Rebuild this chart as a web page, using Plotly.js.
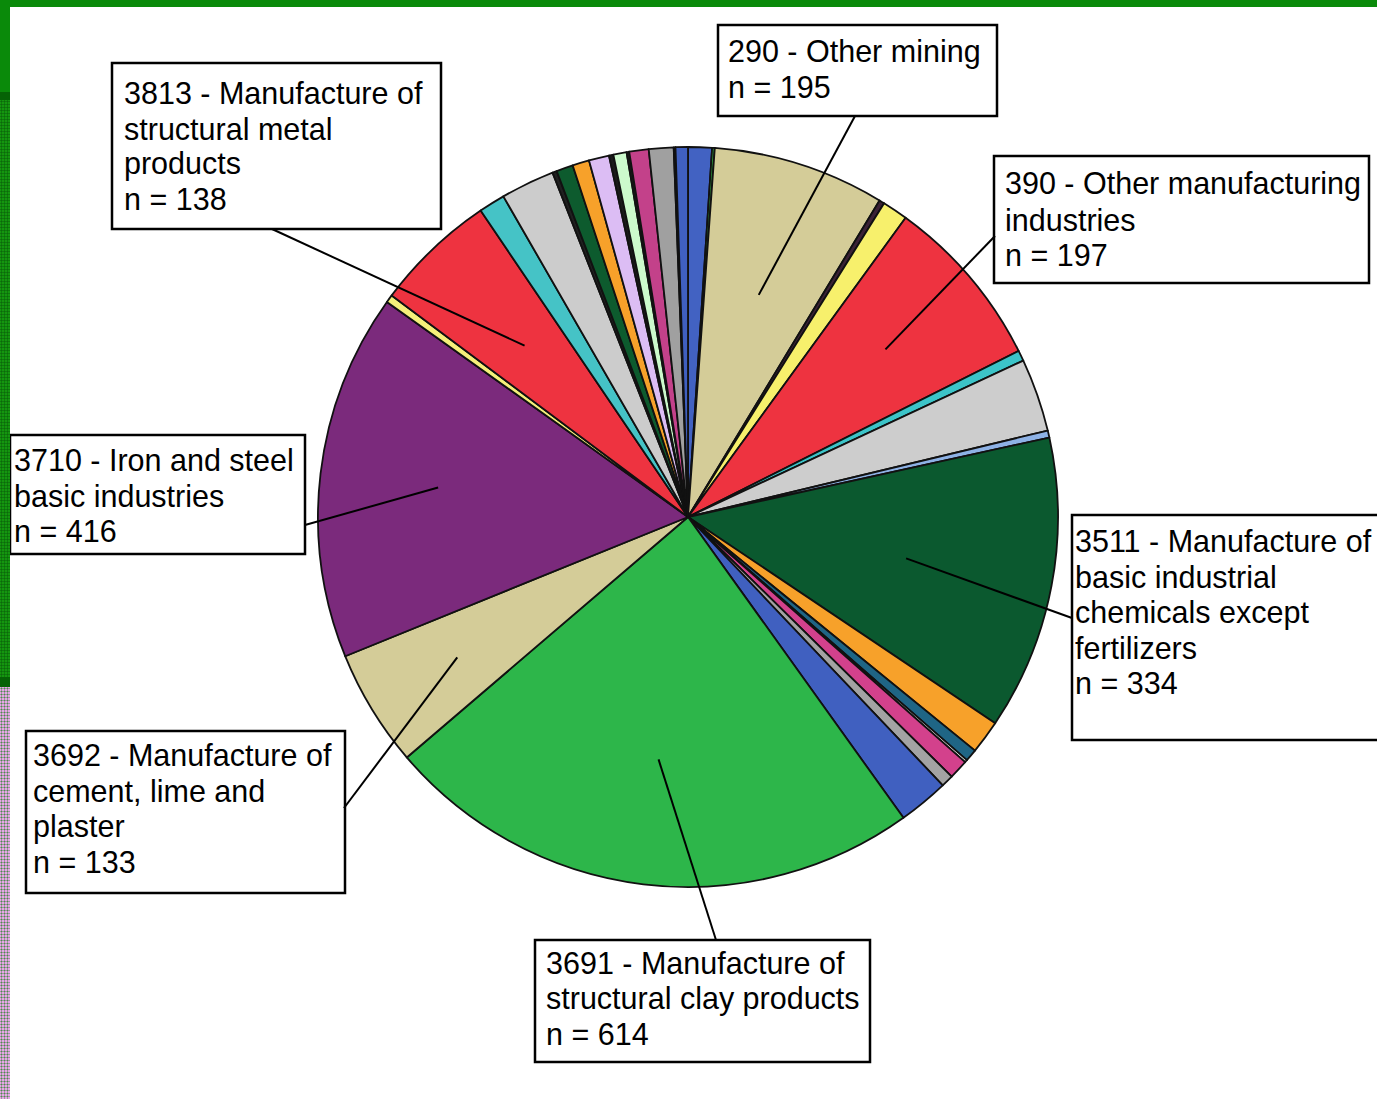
<!DOCTYPE html>
<html>
<head>
<meta charset="utf-8">
<script src="https://cdn.plot.ly/plotly-3.0.1.min.js"></script>
<style>
  html, body { margin: 0; padding: 0; background: #ffffff; }
  #chart { position: absolute; left: 0; top: 0; width: 1377px; height: 1099px; }
  .frame { position: absolute; pointer-events: none; }
</style>
</head>
<body>
<div id="chart"></div>
<div class="frame" style="left:0;top:0;width:1377px;height:7px;background:#0A8A0A;"></div>
<div class="frame" style="left:0;top:0;width:10px;height:92px;background:#0A8A0A;"></div>
<div class="frame" style="left:0;top:92px;width:10px;height:8px;background:#056205;"></div>
<div class="frame" style="left:0;top:100px;width:10px;height:577px;background-color:#14960F;background-image:radial-gradient(circle,#0B6A0B 0.9px,transparent 1.2px);background-size:3px 3px;"></div>
<div class="frame" style="left:0;top:677px;width:10px;height:10px;background:#056205;"></div>
<div class="frame" style="left:0;top:687px;width:10px;height:412px;background-color:#E6A6E6;background-image:radial-gradient(circle,#4E8A4E 0.8px,transparent 1.2px);background-size:3px 3px;"></div>
<script>
// ---- data (clockwise from 12 o'clock) ----
const sectorLabels = [
  "Other sector A", "Other sector B", "290 - Other mining", "Other sector C", "Other sector D",
  "390 - Other manufacturing industries", "Other sector E", "Other sector F", "Other sector G",
  "3511 - Manufacture of basic industrial chemicals except fertilizers",
  "Other sector H", "Other sector I", "Other sector J", "Other sector K", "Other sector L", "Other sector M",
  "3691 - Manufacture of structural clay products",
  "3692 - Manufacture of cement, lime and plaster",
  "3710 - Iron and steel basic industries",
  "Other sector N",
  "3813 - Manufacture of structural metal products",
  "Other sector O", "Other sector P", "Other sector Q", "Other sector R", "Other sector S",
  "Other sector T", "Other sector U", "Other sector V", "Other sector W", "Other sector X",
  "Other sector Y", "Other sector Z", "Other sector AA"
];
const sectorCounts = [
  27, 3, 195, 6, 29,
  197, 12, 83, 8,
  334,
  38, 14, 3, 22, 14, 57,
  614,
  133,
  416,
  9,
  138,
  30, 61, 5, 19, 19,
  23, 5, 15, 3, 22,
  28, 2, 14
];
const sectorColors = [
  "#4262C2", "#2E9E3E", "#D4CC98", "#3B2236", "#F7F06C",
  "#EE3340", "#3CC4C8", "#CDCDCD", "#8EB2E6",
  "#0B592F",
  "#F7A12A", "#1F6585", "#F0F0F0", "#D3418C", "#A3A3A3", "#4060C0",
  "#2DB64A",
  "#D4CC98",
  "#7B2A7C",
  "#F5F07A",
  "#EE3340",
  "#45C3C6", "#CCCCCC", "#202020", "#0D5B2E", "#F7A12A",
  "#DCBDF4", "#1A1A1A", "#CCFACC", "#1A1A1A", "#C3418A",
  "#A0A0A0", "#2C3E80", "#4060C0"
];

// callout texts
const calloutSectors = [2, 5, 9, 16, 17, 18, 20];
const calloutText = [
  ["290 - Other mining", "n = 195"],
  ["390 - Other manufacturing", "industries", "n = 197"],
  ["3511 - Manufacture of", "basic industrial", "chemicals except", "fertilizers", "n = 334"],
  ["3691 - Manufacture of", "structural clay products", "n = 614"],
  ["3692 - Manufacture of", "cement, lime and", "plaster", "n = 133"],
  ["3710 - Iron and steel", "basic industries", "n = 416"],
  ["3813 - Manufacture of", "structural metal", "products", "n = 138"]
];

// ---- layout (pixel positions) ----
const W = 1377, H = 1099;
const PIE = {cx: 688, cy: 517, r: 370};
const boxes = [
  {box: [718, 25, 997, 116],  tx: 726,  ty: 52,  start: [855, 116], rf: 0.63},
  {box: [994, 156, 1369, 283], tx: 1003, ty: 184, start: [995, 236], rf: 0.70},
  {box: [1072, 515, 1385, 740], tx: 1073, ty: 541, start: [1072, 618], rf: 0.60},
  {box: [535, 940, 870, 1062], tx: 544,  ty: 963, start: [716, 940], rf: 0.66},
  {box: [26, 731, 345, 893],   tx: 31,   ty: 755, start: [344, 808], rf: 0.73},
  {box: [10, 435, 305, 554],   tx: 12,   ty: 460, start: [305, 525], rf: 0.68},
  {box: [112, 63, 441, 229],   tx: 122,  ty: 93,  start: [272, 229], rf: 0.64}
];
const LINE_STEP = 35.5;
const px = x => x / W;
const py = y => 1 - y / H;

const total = sectorCounts.reduce((a, b) => a + b, 0);
const cum = [];
let acc = 0;
sectorCounts.forEach(v => { cum.push(acc); acc += v; });

const shapes = [];
const annotations = [];
boxes.forEach((b, i) => {
  shapes.push({type: 'rect', xref: 'paper', yref: 'paper', layer: 'above',
    x0: px(b.box[0]), x1: px(b.box[2]), y0: py(b.box[3]), y1: py(b.box[1]),
    line: {color: '#000000', width: 2.5}, fillcolor: '#ffffff'});
  const k = calloutSectors[i];
  const midAngle = (cum[k] + sectorCounts[k] / 2) / total * 2 * Math.PI;
  const ex = PIE.cx + b.rf * PIE.r * Math.sin(midAngle);
  const ey = PIE.cy - b.rf * PIE.r * Math.cos(midAngle);
  shapes.push({type: 'line', xref: 'paper', yref: 'paper', layer: 'above',
    x0: px(b.start[0]), y0: py(b.start[1]), x1: px(ex), y1: py(ey),
    line: {color: '#000000', width: 2}});
  calloutText[i].forEach((t, j) => {
    annotations.push({xref: 'paper', yref: 'paper', x: px(b.tx), y: py(b.ty + j * LINE_STEP),
      xanchor: 'left', yanchor: 'middle', showarrow: false, text: t, align: 'left',
      font: {family: 'Liberation Sans, Arial, sans-serif', size: 30.5, color: '#000000'}});
  });
});

const trace = {
  type: 'pie',
  labels: sectorLabels,
  values: sectorCounts,
  sort: false,
  direction: 'clockwise',
  rotation: 0,
  textinfo: 'none',
  hoverinfo: 'label+value',
  marker: {colors: sectorColors, line: {color: '#111111', width: 1.8}},
  domain: {x: [px(PIE.cx - PIE.r), px(PIE.cx + PIE.r)], y: [py(PIE.cy + PIE.r), py(PIE.cy - PIE.r)]},
  showlegend: false
};

const layout = {
  width: W, height: H,
  margin: {l: 0, r: 0, t: 0, b: 0},
  paper_bgcolor: '#ffffff',
  showlegend: false,
  shapes: shapes,
  annotations: annotations
};

Plotly.newPlot('chart', [trace], layout, {displayModeBar: false, staticPlot: true});
</script>
</body>
</html>
